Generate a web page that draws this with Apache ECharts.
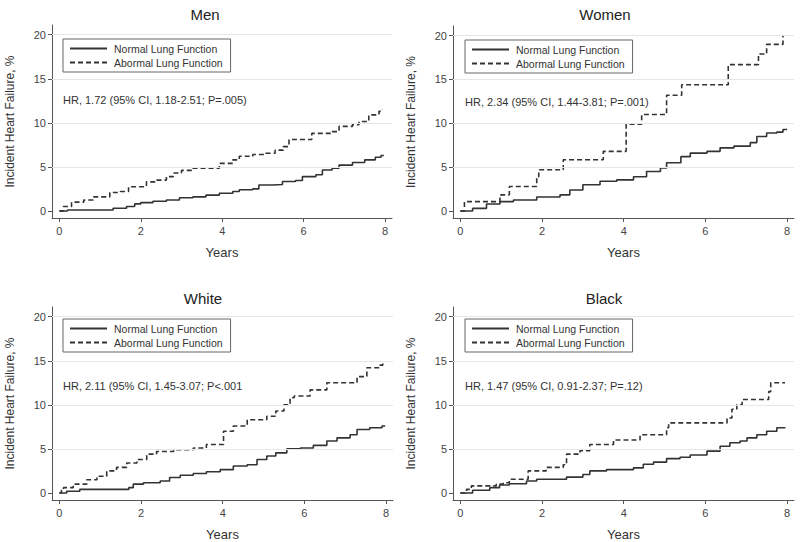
<!DOCTYPE html>
<html>
<head>
<meta charset="utf-8">
<script src="https://cdn.jsdelivr.net/npm/echarts@6/dist/echarts.min.js"></script>
<style>html,body{margin:0;padding:0;background:#fff}#c{width:800px;height:542px}</style>
</head>
<body>
<div id="c"></div>
<script>
// ---- data (years, cumulative incidence %) ----
const panelTitles = ['Men', 'Women', 'White', 'Black'];
const seriesNames = ['Normal Lung Function', 'Abormal Lung Function'];
const hrTexts = [
  'HR, 1.72 (95% CI, 1.18-2.51; P=.005)',
  'HR, 2.34 (95% CI, 1.44-3.81; P=.001)',
  'HR, 2.11 (95% CI, 1.45-3.07; P<.001',
  'HR, 1.47 (95% CI, 0.91-2.37; P=.12)'
];
const xTicks = [0, 2, 4, 6, 8];
const yTicks = [0, 5, 10, 15, 20];
const gridValues = [5, 10, 15, 20];

const menNormal = [[0,0],[0.2,0.1],[1.32,0.3],[1.65,0.5],[1.85,0.8],[2.0,0.95],[2.3,1.1],[2.63,1.25],[2.95,1.5],[3.28,1.6],[3.6,1.8],[3.93,2.0],[4.26,2.2],[4.42,2.4],[4.75,2.5],[4.9,2.95],[5.24,3.0],[5.48,3.35],[5.8,3.45],[5.97,3.9],[6.3,4.1],[6.46,4.65],[6.7,4.85],[6.87,5.2],[7.2,5.5],[7.5,5.8],[7.76,6.1],[7.9,6.3],[7.97,6.3]];
const menAbnormal = [[0,0],[0.1,0.5],[0.3,1.0],[0.6,1.25],[0.83,1.6],[1.24,2.1],[1.5,2.2],[1.7,2.75],[2.14,3.3],[2.38,3.5],[2.63,3.9],[2.8,4.3],[3.0,4.6],[3.28,4.85],[3.93,5.4],[4.26,5.8],[4.42,6.2],[4.75,6.4],[5.07,6.55],[5.3,6.9],[5.5,7.3],[5.64,8.1],[6.2,8.8],[6.7,9.0],[6.87,9.6],[7.2,9.8],[7.36,10.15],[7.6,10.9],[7.85,11.3],[7.93,11.5]];
const womenNormal = [[0,0],[0.3,0.3],[0.64,0.8],[0.97,1.07],[1.3,1.26],[1.87,1.6],[2.44,1.84],[2.68,2.4],[3.0,3.0],[3.42,3.4],[3.83,3.55],[4.24,3.9],[4.56,4.5],[4.9,4.9],[5.05,5.5],[5.4,6.2],[5.63,6.6],[6.04,6.8],[6.36,7.2],[6.7,7.4],[7.1,7.8],[7.26,8.5],[7.5,8.9],[7.75,9.0],[7.9,9.3],[8.0,9.3]];
const womenAbnormal = [[0,0],[0.1,1.07],[0.97,1.84],[1.2,2.8],[1.87,3.9],[1.92,4.7],[2.52,5.85],[3.5,6.8],[4.06,9.9],[4.44,11.0],[5.05,13.2],[5.42,14.4],[6.56,16.7],[7.3,17.9],[7.5,19.0],[7.9,20.0]];
const whiteNormal = [[0,0],[0.18,0.2],[0.5,0.4],[1.7,0.6],[1.81,1.0],[2.06,1.15],[2.47,1.35],[2.7,1.75],[2.96,2.0],[3.28,2.2],[3.6,2.4],[3.94,2.65],[4.26,3.05],[4.6,3.2],[4.84,3.8],[5.08,4.2],[5.3,4.55],[5.57,5.0],[5.9,5.1],[6.22,5.4],[6.55,5.9],[6.8,6.25],[7.12,6.6],[7.29,7.2],[7.6,7.4],[7.9,7.6],[7.98,7.6]];
const whiteAbnormal = [[0,0],[0.05,0.3],[0.1,0.6],[0.34,1.0],[0.67,1.5],[0.92,1.9],[1.16,2.5],[1.4,2.9],[1.65,3.4],[1.9,3.8],[2.14,4.4],[2.38,4.7],[2.8,4.9],[3.28,5.1],[3.6,5.5],[4.02,7.0],[4.26,7.6],[4.6,8.3],[5.08,8.7],[5.3,9.3],[5.5,10.0],[5.65,10.8],[5.75,11.0],[6.14,11.7],[6.55,12.5],[7.29,13.2],[7.53,14.2],[7.85,14.5],[7.92,14.9]];
const blackNormal = [[0,0],[0.3,0.3],[0.72,0.6],[0.96,0.9],[1.2,1.05],[1.62,1.35],[1.87,1.55],[2.6,1.8],[3.0,2.1],[3.17,2.5],[3.58,2.65],[4.24,2.85],[4.48,3.25],[4.73,3.5],[5.05,3.9],[5.38,4.05],[5.63,4.3],[6.04,4.75],[6.36,5.3],[6.6,5.7],[6.85,5.9],[7.02,6.25],[7.26,6.6],[7.5,7.0],[7.75,7.4],[7.96,7.45]];
const blackAbnormal = [[0,0],[0.15,0.4],[0.27,0.8],[0.88,1.0],[1.05,1.15],[1.2,1.55],[1.66,2.5],[2.1,2.9],[2.52,3.2],[2.6,4.4],[2.93,4.8],[3.17,5.5],[3.75,6.0],[4.4,6.6],[5.05,7.4],[5.1,7.95],[6.53,8.5],[6.65,9.5],[6.77,10.0],[6.9,10.6],[7.55,11.5],[7.6,12.5],[7.95,12.5]];

const normalData = [menNormal, womenNormal, whiteNormal, blackNormal];
const abnormalData = [menAbnormal, womenAbnormal, whiteAbnormal, blackAbnormal];

// ---- layout ----
const FONT = '"Liberation Sans", Arial, Helvetica, sans-serif';
const grids = [
  {left: 52, top: 25, width: 340, height: 193},
  {left: 453, top: 26, width: 341, height: 192},
  {left: 52, top: 307, width: 341, height: 195},
  {left: 453, top: 307, width: 341, height: 195}
];
const titlePos = [[200, 2], [600, 2], [198, 286], [599, 286]];
const hrPos = [[63, 94], [465, 96], [63, 380], [465, 380]];
const legendPos = [[63, 39], [465, 40], [63, 319], [465, 319]];
const lineColor = '#333';

const option = {
  backgroundColor: '#fff',
  animation: false,
  title: [],
  legend: [],
  grid: grids,
  xAxis: [],
  yAxis: [],
  series: []
};

grids.forEach((g, i) => {
  option.title.push({
    text: panelTitles[i], left: titlePos[i][0], top: titlePos[i][1], textAlign: 'center',
    textStyle: {fontFamily: FONT, fontSize: 15, fontWeight: 'normal', color: '#222'}
  });
  option.title.push({
    text: hrTexts[i], left: hrPos[i][0], top: hrPos[i][1], padding: 0,
    textStyle: {fontFamily: FONT, fontSize: 11, fontWeight: 'normal', color: '#333'}
  });
  option.legend.push({
    data: seriesNames, left: legendPos[i][0], top: legendPos[i][1], orient: 'vertical',
    itemWidth: 37, itemHeight: 11, itemGap: 3, padding: [4, 8, 4, 6],
    borderColor: '#666', borderWidth: 1, selectedMode: false,
    itemStyle: {opacity: 0},
    textStyle: {fontFamily: FONT, fontSize: 10.5, color: '#333', padding: [0, 0, 0, 2]}
  });
  option.xAxis.push({
    type: 'value', gridIndex: i, min: -0.18, max: 8.17,
    name: 'Years', nameLocation: 'middle', nameGap: 28,
    nameTextStyle: {fontFamily: FONT, fontSize: 13, color: '#333'},
    axisLine: {show: true, onZero: false, lineStyle: {color: '#555', width: 1}},
    axisTick: {show: true, length: 4, customValues: xTicks, lineStyle: {color: '#555'}},
    axisLabel: {customValues: xTicks, margin: 7, fontFamily: FONT, fontSize: 11, color: '#444'},
    splitLine: {show: false}
  });
  option.yAxis.push({
    type: 'value', gridIndex: i, min: -0.8, max: 21.1,
    name: 'Incident Heart Failure, %', nameLocation: 'middle', nameGap: 36,
    nameTextStyle: {fontFamily: FONT, fontSize: 12, color: '#333'},
    axisLine: {show: true, onZero: false, lineStyle: {color: '#555', width: 1}},
    axisTick: {show: true, length: 4, customValues: yTicks, lineStyle: {color: '#555'}},
    axisLabel: {customValues: yTicks, margin: 6, fontFamily: FONT, fontSize: 11, color: '#444'},
    splitLine: {show: false}
  });
  option.series.push({
    name: seriesNames[0], type: 'line', step: 'end', xAxisIndex: i, yAxisIndex: i,
    data: normalData[i], showSymbol: false, symbol: 'none',
    lineStyle: {color: lineColor, width: 1.6, type: 'solid'},
    itemStyle: {color: lineColor},
    markLine: {
      silent: true, symbol: 'none', label: {show: false},
      lineStyle: {color: '#e6e6e6', width: 1, type: 'solid'},
      data: gridValues.map(v => ({yAxis: v}))
    },
    z: 3
  });
  option.series.push({
    name: seriesNames[1], type: 'line', step: 'end', xAxisIndex: i, yAxisIndex: i,
    data: abnormalData[i], showSymbol: false, symbol: 'none',
    lineStyle: {color: lineColor, width: 1.6, type: [5, 3]},
    itemStyle: {color: lineColor},
    z: 3
  });
});

const chart = echarts.init(document.getElementById('c'), null, {renderer: 'svg'});
chart.setOption(option);
</script>
</body>
</html>
